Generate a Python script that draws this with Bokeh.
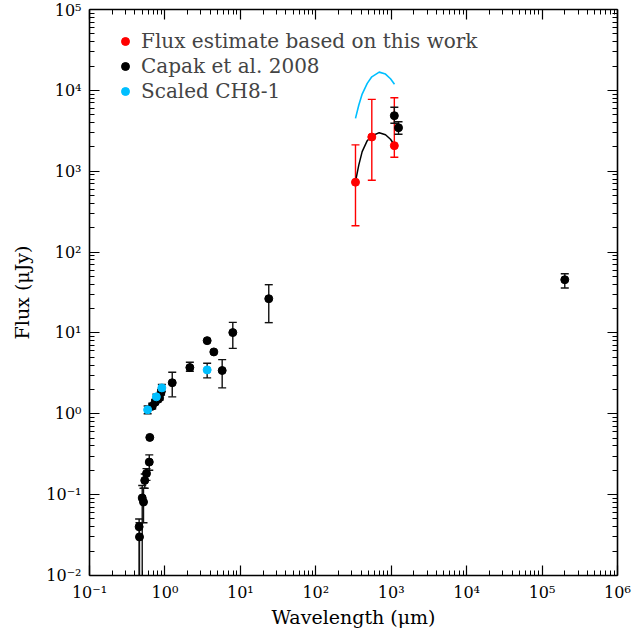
import numpy as np
from bokeh.plotting import figure
from bokeh.models import (LogAxis, FixedTicker, CustomJSTickFormatter, Whisker, TeeHead,
                          ColumnDataSource, Legend, LegendItem, Range1d)
from bokeh.embed import file_html
from bokeh.resources import INLINE

# ---------------- data ----------------
# Flux estimate based on this work (red)
red_wl = [336, 553, 1100]
red_flux = [731, 2650, 2070]
red_lo = [212, 774, 1490]
red_hi = [2120, 7740, 8100]

# Capak et al. 2008 (black); nan = no error bar
cap_wl = [0.46, 0.455, 0.50, 0.52, 0.54, 0.57, 0.62, 0.63, 0.68, 0.74, 0.80, 0.85,
          0.89, 1.25, 2.14, 3.63, 4.45, 5.74, 7.94, 23.8, 1100, 1250, 2.0e5]
cap_flux = [0.030, 0.040, 0.091, 0.081, 0.150, 0.183, 0.253, 0.51, 1.24, 1.39, 1.50, 1.58,
            1.85, 2.42, 3.73, 8.03, 5.82, 3.43, 10.1, 26.5, 4860, 3450, 45.5]
cap_lo = [0.001, 0.001, 0.001, 0.045, 0.12, 0.15, 0.20, np.nan, 1.15, 1.30, 1.40, 1.48,
          1.70, 1.62, 3.36, np.nan, np.nan, 2.09, 6.45, 13.4, 3920, 2860, 36]
cap_hi = [0.045, 0.050, 0.13, 0.12, 0.18, 0.21, 0.31, np.nan, 1.35, 1.50, 1.62, 1.70,
          2.00, 3.27, 4.33, np.nan, np.nan, 4.68, 13.5, 39.5, 6170, 4090, 54]

# Scaled CH8-1 (blue)
ch8_wl = [0.59, 0.77, 0.91, 3.63]
ch8_flux = [1.12, 1.62, 2.09, 3.49]
ch8_lo = [1.00, 1.50, 1.90, 2.78]
ch8_hi = [1.25, 1.75, 2.30, 4.21]

# model curves
fit_wl = [336, 372, 412, 481, 553, 693, 840, 978, 1105]
fit_flux = [745, 1197, 1746, 2386, 2727, 2997, 2830, 2483, 2112]
ch8_fit_wl = [336, 372, 412, 481, 553, 693, 840, 978, 1105]
ch8_fit_flux = [4510, 6590, 9000, 12200, 14700, 16800, 15900, 13900, 11900]

x_major = [1e-1, 1e0, 1e1, 1e2, 1e3, 1e4, 1e5, 1e6]
y_major = [1e-2, 1e-1, 1e0, 1e1, 1e2, 1e3, 1e4, 1e5]

RED = "#ff0000"
BLUE = "#00bfff"
FONT = "DejaVu Serif"

p = figure(width=644, height=630, x_axis_type="log", y_axis_type="log",
           x_range=Range1d(1e-1, 1e6), y_range=Range1d(1e-2, 1e5),
           output_backend="svg", toolbar_location=None,
           min_border_left=89, min_border_right=27, min_border_top=9, min_border_bottom=54)
p.xgrid.visible = False
p.ygrid.visible = False
p.outline_line_color = None

def minors(majors):
    out = []
    for m in majors[:-1]:
        out += [m * k for k in range(2, 10)]
    return out

fmt = CustomJSTickFormatter(code="""
const sup = {'-':'\u207b','0':'\u2070','1':'\u00b9','2':'\u00b2','3':'\u00b3','4':'\u2074',
             '5':'\u2075','6':'\u2076','7':'\u2077','8':'\u2078','9':'\u2079'};
const e = Math.round(Math.log10(tick));
return '10' + String(e).split('').map(c => sup[c]).join('');
""")
blank = CustomJSTickFormatter(code="return ' ';")

def style(ax, majors, labels=True):
    ax.ticker = FixedTicker(ticks=majors, minor_ticks=minors(majors))
    ax.axis_line_width = 1.6
    ax.axis_line_color = "black"
    ax.major_tick_in = 10
    ax.major_tick_out = 0
    ax.minor_tick_in = 5
    ax.minor_tick_out = 0
    ax.major_tick_line_color = "black"
    ax.minor_tick_line_color = "black"
    ax.major_tick_line_width = 1.2
    ax.minor_tick_line_width = 1.0
    if labels:
        ax.formatter = fmt
        ax.major_label_text_font = FONT
        ax.major_label_text_font_size = "16px"
        ax.major_label_text_color = "black"
        ax.axis_label_text_font = FONT
        ax.axis_label_text_font_size = "19px"
        ax.axis_label_text_font_style = "normal"
        ax.axis_label_text_color = "black"
    else:
        ax.formatter = blank
        ax.major_label_text_font_size = "6px"
        ax.major_label_standoff = 0

style(p.xaxis[0], x_major)
style(p.yaxis[0], y_major)
p.xaxis[0].axis_label = "Wavelength (\u03bcm)"
p.yaxis[0].axis_label = "Flux (\u03bcJy)"
p.xaxis[0].major_label_standoff = 7
p.yaxis[0].major_label_standoff = 8
p.xaxis[0].axis_label_standoff = 1
p.yaxis[0].axis_label_standoff = 10

top = LogAxis()
right = LogAxis()
style(top, x_major, labels=False)
style(right, y_major, labels=False)
p.add_layout(top, "above")
p.add_layout(right, "right")

# curves
p.line(fit_wl, fit_flux, line_color="black", line_width=1.5)
p.line(ch8_fit_wl, ch8_fit_flux, line_color=BLUE, line_width=1.6)

def errbars(wl, lo, hi, color, cap):
    keep = [i for i in range(len(wl)) if not (np.isnan(lo[i]) or np.isnan(hi[i]))]
    src = ColumnDataSource(dict(x=[wl[i] for i in keep], lo=[lo[i] for i in keep],
                                hi=[hi[i] for i in keep]))
    w = Whisker(source=src, base="x", lower="lo", upper="hi", dimension="height",
                line_color=color, line_width=1.4,
                upper_head=TeeHead(size=cap, line_color=color, line_width=1.4),
                lower_head=TeeHead(size=cap, line_color=color, line_width=1.4))
    p.add_layout(w)

errbars(red_wl, red_lo, red_hi, RED, 8)
r_red = p.scatter(red_wl, red_flux, size=8, fill_color=RED, line_color=RED)
errbars(cap_wl, cap_lo, cap_hi, "#111111", 8)
r_cap = p.scatter(cap_wl, cap_flux, size=8, fill_color="black", line_color="black")
errbars(ch8_wl, ch8_lo, ch8_hi, "#111111", 8)
r_ch8 = p.scatter(ch8_wl, ch8_flux, size=8, fill_color=BLUE, line_color=BLUE)

legend = Legend(items=[LegendItem(label="Flux estimate based on this work", renderers=[r_red]),
                       LegendItem(label="Capak et al. 2008", renderers=[r_cap]),
                       LegendItem(label="Scaled CH8-1", renderers=[r_ch8])],
                location="top_left", margin=20, padding=15,
                glyph_width=32, glyph_height=20, label_standoff=0, spacing=1,
                label_text_font=FONT, label_text_font_size="20px",
                border_line_color=None, background_fill_alpha=0)
p.add_layout(legend)

open("out.html", "w", encoding="utf-8").write(file_html(p, INLINE))
